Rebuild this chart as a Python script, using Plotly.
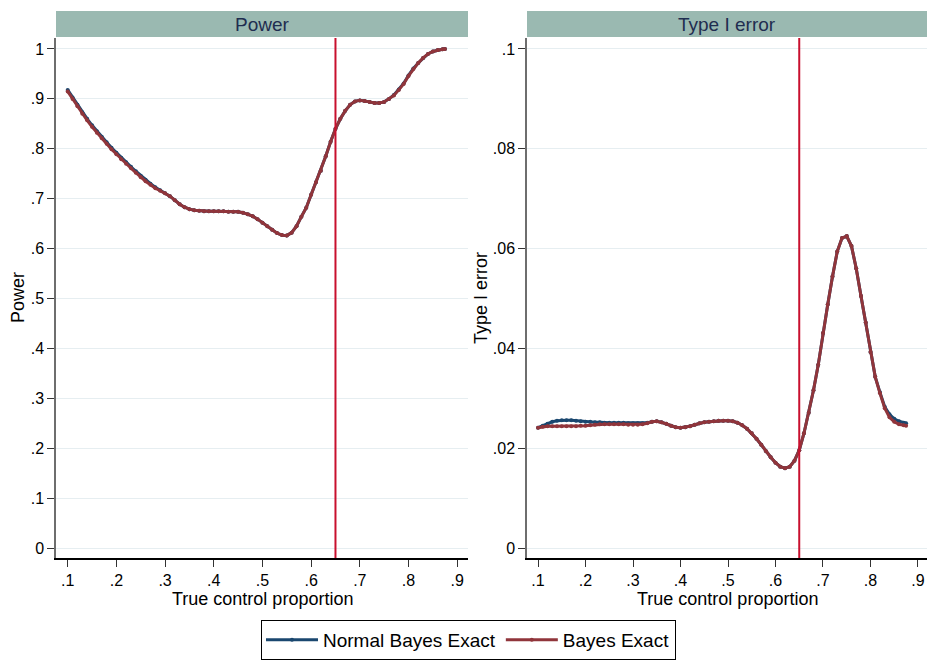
import plotly.graph_objects as go

# ---------------- data ----------------
x_vals = [round(0.10 + 0.01 * i, 2) for i in range(78)] + [0.875]

power_bayes = [
    0.915, 0.900, 0.885, 0.870, 0.857, 0.844, 0.832, 0.821, 0.810, 0.799,
    0.789, 0.779, 0.770, 0.761, 0.752, 0.743, 0.735, 0.728, 0.721, 0.716,
    0.711, 0.705, 0.697, 0.689, 0.683, 0.679, 0.677, 0.676, 0.675, 0.675,
    0.675, 0.675, 0.675, 0.674, 0.674, 0.674, 0.672, 0.669, 0.665, 0.659,
    0.652, 0.645, 0.638, 0.631, 0.627, 0.626, 0.632, 0.645, 0.664, 0.682,
    0.708, 0.733, 0.756, 0.785, 0.814, 0.840, 0.860, 0.876, 0.888, 0.895,
    0.897, 0.896, 0.894, 0.892, 0.892, 0.894, 0.900, 0.907, 0.918, 0.930,
    0.946, 0.960, 0.972, 0.982, 0.990, 0.995, 0.998, 0.9995, 1.000,
]
power_normal = [
    0.918, 0.903, 0.888, 0.873, 0.860, 0.847, 0.835, 0.824, 0.813, 0.802,
    0.792, 0.782, 0.773, 0.764, 0.755, 0.746, 0.738, 0.730, 0.723, 0.717,
    0.711, 0.705, 0.697, 0.689, 0.683, 0.679, 0.677, 0.676, 0.675, 0.675,
    0.675, 0.675, 0.675, 0.674, 0.674, 0.674, 0.672, 0.669, 0.665, 0.659,
    0.652, 0.645, 0.638, 0.631, 0.627, 0.626, 0.632, 0.645, 0.664, 0.682,
    0.708, 0.733, 0.756, 0.785, 0.814, 0.840, 0.860, 0.876, 0.888, 0.895,
    0.897, 0.896, 0.894, 0.892, 0.892, 0.894, 0.900, 0.908, 0.919, 0.931,
    0.947, 0.961, 0.972, 0.982, 0.990, 0.995, 0.998, 0.9995, 1.000,
]

type1_bayes = [
    0.0241, 0.0243, 0.0244, 0.0244, 0.0244, 0.0244, 0.0244, 0.0244, 0.0244, 0.0245,
    0.0245, 0.0246, 0.0247, 0.0248, 0.0248, 0.0248, 0.0248, 0.0248, 0.0248, 0.0247,
    0.0247, 0.0247, 0.0248, 0.0250, 0.0253, 0.0254, 0.0252, 0.0249, 0.0245, 0.0242,
    0.0241, 0.0242, 0.0244, 0.0247, 0.0250, 0.0252, 0.0253, 0.0254, 0.0255, 0.0255,
    0.0255, 0.0254, 0.0251, 0.0246, 0.0239, 0.0230, 0.0219, 0.0207, 0.0194, 0.0182,
    0.0171, 0.0163, 0.0160, 0.0163, 0.0175, 0.0196, 0.0230, 0.0271, 0.0316, 0.0367,
    0.0431, 0.0488, 0.0544, 0.0594, 0.0621, 0.0625, 0.0605, 0.0560, 0.0505, 0.0452,
    0.0393, 0.0343, 0.0310, 0.0280, 0.0262, 0.0253, 0.0248, 0.0246, 0.0245,
]
type1_normal = [
    0.0241, 0.0245, 0.0249, 0.0253, 0.0255, 0.0256, 0.0256, 0.0256, 0.0255, 0.0254,
    0.0253, 0.0253, 0.0252, 0.0252, 0.0251, 0.0251, 0.0251, 0.0251, 0.0251, 0.0250,
    0.0250, 0.0250, 0.0250, 0.0251, 0.0253, 0.0254, 0.0252, 0.0249, 0.0245, 0.0242,
    0.0241, 0.0242, 0.0244, 0.0247, 0.0250, 0.0252, 0.0253, 0.0254, 0.0255, 0.0255,
    0.0255, 0.0254, 0.0251, 0.0246, 0.0239, 0.0230, 0.0219, 0.0207, 0.0194, 0.0182,
    0.0171, 0.0163, 0.0160, 0.0163, 0.0175, 0.0196, 0.0230, 0.0271, 0.0316, 0.0367,
    0.0431, 0.0488, 0.0544, 0.0594, 0.0621, 0.0625, 0.0605, 0.0560, 0.0505, 0.0452,
    0.0393, 0.0343, 0.0312, 0.0283, 0.0268, 0.0259, 0.0254, 0.0251, 0.0250,
]

x_ticks = [0.1, 0.2, 0.3, 0.4, 0.5, 0.6, 0.7, 0.8, 0.9]
x_ticktext = [".1", ".2", ".3", ".4", ".5", ".6", ".7", ".8", ".9"]
power_ticks = [0, 0.1, 0.2, 0.3, 0.4, 0.5, 0.6, 0.7, 0.8, 0.9, 1.0]
power_ticktext = ["0", ".1", ".2", ".3", ".4", ".5", ".6", ".7", ".8", ".9", "1"]
t1_ticks = [0, 0.02, 0.04, 0.06, 0.08, 0.1]
t1_ticktext = ["0", ".02", ".04", ".06", ".08", ".1"]
ref_line_x = 0.65

series_names = ["Normal Bayes Exact", "Bayes Exact"]
series_colors = ["#1a476f", "#90353b"]
panel_titles = ["Power", "Type I error"]
x_title = "True control proportion"

# ---------------- figure ----------------
W, H = 927, 660
FONT = "Liberation Sans, Arial, sans-serif"
fig = go.Figure()

def add_series(xaxis, yaxis, ys, idx, show):
    fig.add_trace(go.Scatter(
        x=x_vals, y=ys, mode="lines+markers",
        name=series_names[idx], legendgroup=series_names[idx], showlegend=show,
        line=dict(color=series_colors[idx], width=3),
        marker=dict(color=series_colors[idx], size=4, symbol="circle"),
        xaxis=xaxis, yaxis=yaxis,
    ))

add_series("x", "y", power_normal, 0, True)
add_series("x", "y", power_bayes, 1, True)
add_series("x2", "y2", type1_normal, 0, False)
add_series("x2", "y2", type1_bayes, 1, False)

yb, yt = 102 / H, 622 / H
grid_col = "#e6eef1"
axis_common = dict(
    showgrid=False, zeroline=False, showline=True, linecolor="#000000", linewidth=1.5,
    ticks="outside", ticklen=7, tickcolor="#333333", tickwidth=1,
    tickfont=dict(family=FONT, size=16, color="#000000"),
)
yaxis_common = dict(
    showgrid=True, gridcolor=grid_col, gridwidth=1.2, zeroline=False,
    showline=True, linecolor="#6e6e6e", linewidth=1.5,
    ticks="outside", ticklen=7, tickcolor="#333333", tickwidth=1,
    tickfont=dict(family=FONT, size=16, color="#000000"),
)

fig.update_layout(
    width=W, height=H,
    margin=dict(l=0, r=0, t=0, b=0),
    paper_bgcolor="white", plot_bgcolor="white",
    font=dict(family=FONT, size=16, color="#000000"),
    xaxis=dict(domain=[56 / W, 468 / W], range=[0.076, 0.9222],
               tickvals=x_ticks, ticktext=x_ticktext, anchor="y", **axis_common),
    yaxis=dict(domain=[yb, yt], range=[-0.02, 1.022],
               tickvals=power_ticks, ticktext=power_ticktext, anchor="x", **yaxis_common),
    xaxis2=dict(domain=[527 / W, 1.0], range=[0.0768, 0.919],
                tickvals=x_ticks, ticktext=x_ticktext, anchor="y2", **axis_common),
    yaxis2=dict(domain=[yb, yt], range=[-0.002, 0.1022],
                tickvals=t1_ticks, ticktext=t1_ticktext, anchor="x2", **yaxis_common),
    legend=dict(
        orientation="h", x=468.5 / W, xanchor="center", y=(H - 620) / H, yanchor="top",
        bordercolor="#000000", borderwidth=1, bgcolor="white",
        font=dict(family=FONT, size=19, color="#000000"),
        itemwidth=52, tracegroupgap=0,
    ),
)

# vertical reference lines
for xr, yr in [("x", "y"), ("x2", "y2")]:
    fig.add_shape(type="line", xref=xr, yref=f"{yr} domain",
                  x0=ref_line_x, x1=ref_line_x, y0=0, y1=1,
                  line=dict(color="#c8102e", width=2))

# panel header strips
strips = [(56 / W, 468 / W), (527 / W, 1.0)]
for (x0, x1), title in zip(strips, panel_titles):
    fig.add_shape(type="rect", xref="paper", yref="paper",
                  x0=x0, x1=x1, y0=(H - 37) / H, y1=(H - 11) / H,
                  fillcolor="#9ab9b1", line=dict(width=0), layer="below")
    fig.add_annotation(text=title, xref="paper", yref="paper",
                       x=(x0 + x1) / 2, y=(H - 24) / H, showarrow=False,
                       xanchor="center", yanchor="middle",
                       font=dict(family=FONT, size=19, color="#1f2d50"))

# axis titles
for xc in [(56 + 468) / 2 / W, (527 + 927) / 2 / W]:
    fig.add_annotation(text=x_title, xref="paper", yref="paper",
                       x=xc, y=(H - 599) / H, showarrow=False,
                       xanchor="center", yanchor="middle",
                       font=dict(family=FONT, size=18, color="#000000"))
for xp, txt in [(18, panel_titles[0]), (481, panel_titles[1])]:
    fig.add_annotation(text=txt, xref="paper", yref="paper",
                       x=xp / W, y=(H - 298) / H, showarrow=False, textangle=-90,
                       xanchor="center", yanchor="middle",
                       font=dict(family=FONT, size=18, color="#000000"))

fig.write_html("out.html")
